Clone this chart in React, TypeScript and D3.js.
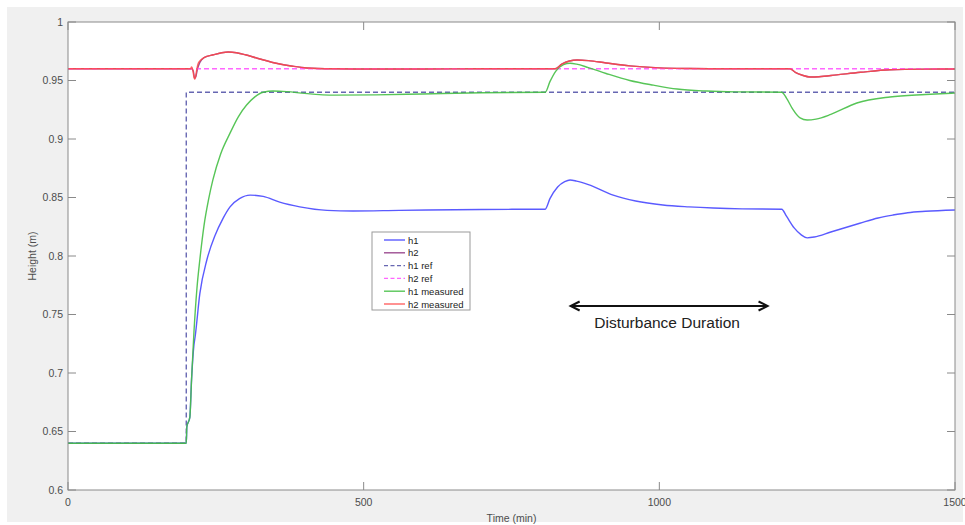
import React from "react";
import * as d3 from "d3";

// Simulated / measured tank levels (time in min, height in m)
const h1Time = [0, 200, 201, 206, 209, 213, 215, 223, 235, 249, 262, 274, 290, 308, 330, 358, 392, 438, 482, 560, 700, 807, 815, 828, 840, 849, 860, 880, 922, 960, 1006, 1050, 1091, 1140, 1207, 1215, 1228, 1240, 1250, 1262, 1290, 1339, 1370, 1395, 1420, 1450, 1500];
const h1Vals = [0.64, 0.64, 0.654, 0.662, 0.695, 0.724, 0.731, 0.768, 0.797, 0.818, 0.832, 0.842, 0.849, 0.852, 0.851, 0.846, 0.842, 0.839, 0.8385, 0.839, 0.8398, 0.84, 0.849, 0.859, 0.8635, 0.865, 0.864, 0.861, 0.852, 0.847, 0.8436, 0.842, 0.841, 0.8403, 0.84, 0.834, 0.824, 0.818, 0.8155, 0.8162, 0.8205, 0.828, 0.8325, 0.835, 0.837, 0.8382, 0.8393];

const h2Time = [0, 206, 209, 212, 214, 216, 219, 223, 230, 246, 260, 271, 285, 300, 320, 350, 380, 404, 450, 500, 600, 700, 824, 835, 848, 861, 880, 910, 950, 1000, 1050, 1100, 1221, 1230, 1242, 1255, 1270, 1300, 1340, 1390, 1450, 1500];
const h2Vals = [0.96, 0.96, 0.96, 0.958, 0.952, 0.953, 0.96, 0.9655, 0.9695, 0.972, 0.9737, 0.9743, 0.9737, 0.972, 0.969, 0.965, 0.9622, 0.9607, 0.96, 0.9598, 0.9598, 0.96, 0.96, 0.964, 0.9667, 0.9675, 0.967, 0.965, 0.9625, 0.9608, 0.9602, 0.96, 0.96, 0.957, 0.9545, 0.953, 0.9532, 0.9548, 0.957, 0.9592, 0.9597, 0.9598];

const h1RefTime = [0, 200, 200, 1500];
const h1RefVals = [0.64, 0.64, 0.94, 0.94];

const h2RefTime = [0, 1500];
const h2RefVals = [0.96, 0.96];

const h1MeasTime = [0, 200, 201, 206, 209, 213, 218, 223, 230, 238, 245, 258, 274, 288, 302, 316, 330, 347, 370, 400, 450, 520, 600, 700, 807, 815, 825, 838, 849, 860, 880, 910, 950, 990, 1030, 1080, 1130, 1207, 1215, 1225, 1238, 1250, 1265, 1290, 1334, 1390, 1450, 1500];
const h1MeasVals = [0.64, 0.64, 0.654, 0.662, 0.695, 0.735, 0.772, 0.797, 0.826, 0.849, 0.865, 0.887, 0.905, 0.919, 0.929, 0.936, 0.94, 0.941, 0.9405, 0.939, 0.9375, 0.9377, 0.9385, 0.9395, 0.94, 0.949, 0.958, 0.9635, 0.9647, 0.964, 0.961, 0.956, 0.95, 0.946, 0.9427, 0.941, 0.9403, 0.94, 0.935, 0.926, 0.918, 0.9162, 0.917, 0.921, 0.9308, 0.9359, 0.938, 0.9393];

const h2MeasTime = [0, 207, 209, 211, 213, 214.5, 216, 218, 221, 230, 246, 260, 271, 285, 300, 320, 350, 380, 404, 450, 500, 600, 700, 824, 835, 848, 861, 880, 910, 950, 1000, 1050, 1100, 1221, 1230, 1242, 1255, 1270, 1300, 1340, 1390, 1450, 1500];
const h2MeasVals = [0.96, 0.96, 0.9615, 0.959, 0.953, 0.951, 0.954, 0.96, 0.9655, 0.9695, 0.972, 0.9737, 0.9743, 0.9737, 0.972, 0.969, 0.965, 0.9622, 0.9607, 0.96, 0.9598, 0.9598, 0.96, 0.96, 0.964, 0.9667, 0.9675, 0.967, 0.965, 0.9625, 0.9608, 0.9602, 0.96, 0.96, 0.957, 0.9545, 0.953, 0.9532, 0.9548, 0.957, 0.9592, 0.9597, 0.9598];

const xTicks = [0, 500, 1000, 1500];
const yTicks = [0.6, 0.65, 0.7, 0.75, 0.8, 0.85, 0.9, 0.95, 1];
const yTickLabels = ["0.6", "0.65", "0.7", "0.75", "0.8", "0.85", "0.9", "0.95", "1"];

const seriesNames = ["h1", "h2", "h1 ref", "h2 ref", "h1 measured", "h2 measured"];

const disturbanceStart = 850;
const disturbanceEnd = 1183;

const W = 965;
const H = 525;
const left = 68;
const right = 955;
const top = 22;
const bottom = 490;
const font = "'Liberation Sans', Arial, Helvetica, sans-serif";

export default function App() {
  const x = d3.scaleLinear().domain([0, 1500]).range([left, right]);
  const y = d3.scaleLinear().domain([0.6, 1]).range([bottom, top]);

  const smooth = d3
    .line<[number, number]>()
    .x((d) => x(d[0]))
    .y((d) => y(d[1]))
    .curve(d3.curveMonotoneX);
  const straight = d3
    .line<[number, number]>()
    .x((d) => x(d[0]))
    .y((d) => y(d[1]));

  const zip = (t: number[], v: number[]) => t.map((ti, i) => [ti, v[i]] as [number, number]);

  const series = [
    { name: seriesNames[0], d: smooth(zip(h1Time, h1Vals)), color: "#4848ff", dash: undefined, op: 0.9 },
    { name: seriesNames[1], d: smooth(zip(h2Time, h2Vals)), color: "#8c2f7e", dash: undefined, op: 0.85 },
    { name: seriesNames[2], d: straight(zip(h1RefTime, h1RefVals)), color: "#5656aa", dash: "5 3", op: 0.9 },
    { name: seriesNames[3], d: straight(zip(h2RefTime, h2RefVals)), color: "#ff55ff", dash: "5 3", op: 0.9 },
    { name: seriesNames[4], d: smooth(zip(h1MeasTime, h1MeasVals)), color: "#45bf45", dash: undefined, op: 0.9 },
    { name: seriesNames[5], d: smooth(zip(h2MeasTime, h2MeasVals)), color: "#ff4848", dash: undefined, op: 0.85 },
  ];

  const tickLen = 8;
  const axisColor = "#8a8a8a";
  const labelColor = "#4d4d4d";

  // legend layout
  const lgX = 372;
  const lgY = 232;
  const lgW = 98;
  const lgRow = 12.8;
  const lgH = 78;

  const ay = 306;
  const ax0 = x(disturbanceStart);
  const ax1 = x(disturbanceEnd);

  return (
    <svg width={W} height={H} style={{ position: "absolute", left: 0, top: 0, display: "block" }}>
      <rect x={0} y={0} width={W} height={H} fill="#ffffff" />
      <rect x={7} y={7} width={956} height={515} fill="#f0f0f0" />
      <rect x={left} y={top} width={right - left} height={bottom - top} fill="#ffffff" />

      <defs>
        <clipPath id="plotClip">
          <rect x={left} y={top} width={right - left} height={bottom - top} />
        </clipPath>
      </defs>

      <g clipPath="url(#plotClip)">
        {series.map((s) => (
          <path
            key={s.name}
            d={s.d || ""}
            fill="none"
            stroke={s.color}
            strokeOpacity={s.op}
            strokeWidth={1.4}
            strokeDasharray={s.dash}
          />
        ))}
      </g>

      {/* axes box */}
      <rect x={left} y={top} width={right - left} height={bottom - top} fill="none" stroke={axisColor} strokeWidth={1} />

      {xTicks.map((t) => (
        <g key={"xt" + t}>
          <line x1={x(t)} x2={x(t)} y1={bottom} y2={bottom - tickLen} stroke={axisColor} />
          <line x1={x(t)} x2={x(t)} y1={top} y2={top + tickLen} stroke={axisColor} />
          <text x={x(t)} y={506} textAnchor="middle" fontFamily={font} fontSize={10.5} fill={labelColor}>
            {t}
          </text>
        </g>
      ))}

      {yTicks.map((t, i) => (
        <g key={"yt" + t}>
          <line x1={left} x2={left + tickLen} y1={y(t)} y2={y(t)} stroke={axisColor} />
          <line x1={right} x2={right - tickLen} y1={y(t)} y2={y(t)} stroke={axisColor} />
          <text x={63} y={y(t) + 3.8} textAnchor="end" fontFamily={font} fontSize={10.5} fill={labelColor}>
            {yTickLabels[i]}
          </text>
        </g>
      ))}

      <text x={(left + right) / 2} y={522} textAnchor="middle" fontFamily={font} fontSize={10.5} fill={labelColor}>
        Time (min)
      </text>
      <text
        transform={`translate(36, ${(top + bottom) / 2}) rotate(-90)`}
        textAnchor="middle"
        fontFamily={font}
        fontSize={10.5}
        fill={labelColor}
      >
        Height (m)
      </text>

      {/* legend */}
      <rect x={lgX} y={lgY} width={lgW} height={lgH} fill="#ffffff" stroke="#9a9a9a" strokeWidth={1} />
      {series.map((s, i) => {
        const cy = lgY + 8 + i * lgRow;
        return (
          <g key={"lg" + s.name}>
            <line
              x1={lgX + 12}
              x2={lgX + 33}
              y1={cy}
              y2={cy}
              stroke={s.color}
              strokeOpacity={s.op}
              strokeWidth={1.4}
              strokeDasharray={s.dash ? "4 2.5" : undefined}
            />
            <text x={lgX + 36} y={cy + 3.5} fontFamily={font} fontSize={9.5} fill="#222">
              {s.name}
            </text>
          </g>
        );
      })}

      {/* disturbance annotation */}
      <line x1={ax0 + 1} x2={ax1 - 1} y1={ay} y2={ay} stroke="#111" strokeWidth={2} />
      <path d={`M${ax0 + 9},${ay - 4.5} L${ax0},${ay} L${ax0 + 9},${ay + 4.5}`} fill="none" stroke="#111" strokeWidth={2} />
      <path d={`M${ax1 - 9},${ay - 4.5} L${ax1},${ay} L${ax1 - 9},${ay + 4.5}`} fill="none" stroke="#111" strokeWidth={2} />
      <text x={(ax0 + ax1) / 2 - 2} y={328} textAnchor="middle" fontFamily={font} fontSize={15.5} fill="#222">
        Disturbance Duration
      </text>
    </svg>
  );
}
